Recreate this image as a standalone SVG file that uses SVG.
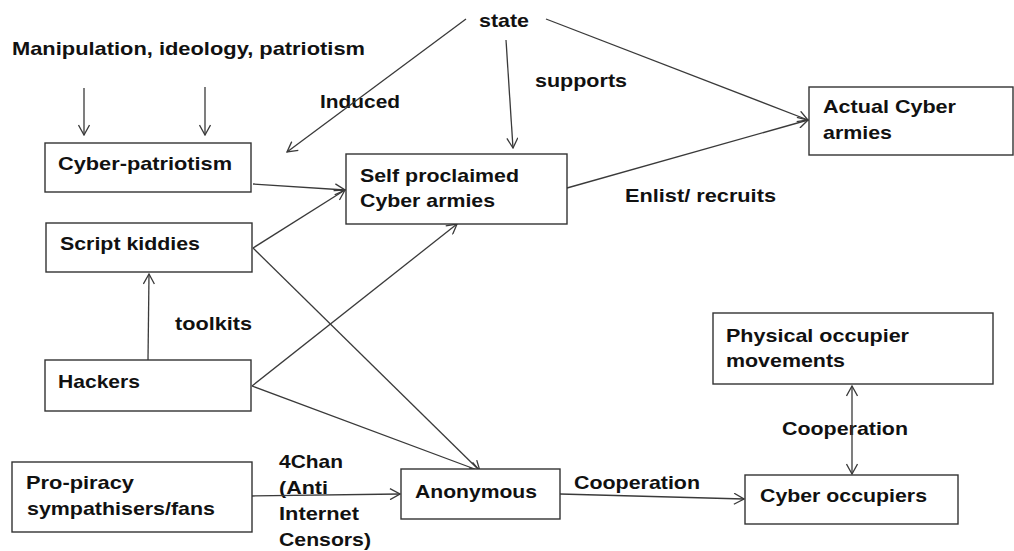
<svg xmlns="http://www.w3.org/2000/svg" width="1014" height="551" viewBox="0 0 1014 551">
  <style>
    .box { fill: #ffffff; stroke: #333333; stroke-width: 1.4; }
    .lbl { font-family: "Liberation Sans", Arial, sans-serif; font-size: 19px; font-weight: bold; fill: #111111; }
    .edge { stroke: #3a3a3a; stroke-width: 1.3; fill: none; marker-end: url(#arrow); }
  </style>
  <defs>
    <marker id="arrow" viewBox="0 0 12 12" refX="11" refY="6" markerWidth="12" markerHeight="12" markerUnits="userSpaceOnUse" orient="auto-start-reverse">
      <path d="M1,0.5 L11,6 L1,11.5" fill="none" stroke="#3a3a3a" stroke-width="1.3"/>
    </marker>
  </defs>
  <rect width="1014" height="551" fill="#ffffff"/>

  <!-- free-standing labels -->
  <g id="labels">
    <text class="lbl" x="479" y="27" textLength="50" lengthAdjust="spacingAndGlyphs">state</text>
    <text class="lbl" x="12" y="55" textLength="353" lengthAdjust="spacingAndGlyphs">Manipulation, ideology, patriotism</text>
    <text class="lbl" x="320" y="108" textLength="80" lengthAdjust="spacingAndGlyphs">Induced</text>
    <text class="lbl" x="535" y="87" textLength="92" lengthAdjust="spacingAndGlyphs">supports</text>
    <text class="lbl" x="625" y="202" textLength="151" lengthAdjust="spacingAndGlyphs">Enlist/ recruits</text>
    <text class="lbl" x="175" y="330" textLength="77" lengthAdjust="spacingAndGlyphs">toolkits</text>
    <text class="lbl" x="279" y="468" textLength="64" lengthAdjust="spacingAndGlyphs">4Chan</text>
    <text class="lbl" x="279" y="494" textLength="49" lengthAdjust="spacingAndGlyphs">(Anti</text>
    <text class="lbl" x="279" y="520" textLength="80" lengthAdjust="spacingAndGlyphs">Internet</text>
    <text class="lbl" x="279" y="546" textLength="92" lengthAdjust="spacingAndGlyphs">Censors)</text>
    <text class="lbl" x="574" y="489" textLength="126" lengthAdjust="spacingAndGlyphs">Cooperation</text>
    <text class="lbl" x="782" y="435" textLength="126" lengthAdjust="spacingAndGlyphs">Cooperation</text>
  </g>

  <!-- connectors -->
  <g id="connectors">
    <line class="edge" x1="84" y1="88" x2="84" y2="135"/>
    <line class="edge" x1="205" y1="87" x2="205" y2="135"/>
    <line class="edge" x1="466" y1="19" x2="287" y2="152"/>
    <line class="edge" x1="506" y1="40" x2="513" y2="148"/>
    <line class="edge" x1="546" y1="19" x2="808" y2="120"/>
    <line class="edge" x1="567" y1="188" x2="808" y2="120"/>
    <line class="edge" x1="253" y1="184" x2="345" y2="190"/>
    <line class="edge" x1="253" y1="248" x2="345" y2="190"/>
    <line class="edge" x1="253" y1="248" x2="480" y2="471"/>
    <line class="edge" x1="252" y1="386" x2="457" y2="224"/>
    <line class="edge" x1="252" y1="386" x2="480" y2="471"/>
    <line class="edge" x1="148" y1="360" x2="149" y2="274"/>
    <line class="edge" x1="252" y1="496" x2="400" y2="494"/>
    <line class="edge" x1="560" y1="494" x2="744" y2="499"/>
    <line class="edge" x1="852" y1="386" x2="852" y2="474" style="marker-start: url(#arrow)"/>
  </g>

  <!-- nodes -->
  <g id="cyber-patriotism">
    <rect class="box" x="45" y="143" width="206" height="49"/>
    <text class="lbl" x="58" y="170" textLength="174" lengthAdjust="spacingAndGlyphs">Cyber-patriotism</text>
  </g>
  <g id="script-kiddies">
    <rect class="box" x="46" y="223" width="206" height="49"/>
    <text class="lbl" x="60" y="250" textLength="140" lengthAdjust="spacingAndGlyphs">Script kiddies</text>
  </g>
  <g id="self-proclaimed">
    <rect class="box" x="346" y="154" width="221" height="70"/>
    <text class="lbl" x="360" y="182" textLength="159" lengthAdjust="spacingAndGlyphs">Self proclaimed</text>
    <text class="lbl" x="360" y="207" textLength="135" lengthAdjust="spacingAndGlyphs">Cyber armies</text>
  </g>
  <g id="actual-cyber-armies">
    <rect class="box" x="809" y="87" width="204" height="68"/>
    <text class="lbl" x="823" y="113" textLength="133" lengthAdjust="spacingAndGlyphs">Actual Cyber</text>
    <text class="lbl" x="823" y="139" textLength="69" lengthAdjust="spacingAndGlyphs">armies</text>
  </g>
  <g id="hackers">
    <rect class="box" x="45" y="360" width="206" height="51"/>
    <text class="lbl" x="58" y="388" textLength="82" lengthAdjust="spacingAndGlyphs">Hackers</text>
  </g>
  <g id="pro-piracy">
    <rect class="box" x="12" y="462" width="240" height="70"/>
    <text class="lbl" x="26" y="489" textLength="108" lengthAdjust="spacingAndGlyphs">Pro-piracy</text>
    <text class="lbl" x="27" y="515" textLength="188" lengthAdjust="spacingAndGlyphs">sympathisers/fans</text>
  </g>
  <g id="anonymous">
    <rect class="box" x="401" y="469" width="159" height="50"/>
    <text class="lbl" x="415" y="498" textLength="122" lengthAdjust="spacingAndGlyphs">Anonymous</text>
  </g>
  <g id="physical-occupier">
    <rect class="box" x="713" y="313" width="280" height="71"/>
    <text class="lbl" x="726" y="342" textLength="183" lengthAdjust="spacingAndGlyphs">Physical occupier</text>
    <text class="lbl" x="726" y="367" textLength="119" lengthAdjust="spacingAndGlyphs">movements</text>
  </g>
  <g id="cyber-occupiers">
    <rect class="box" x="745" y="475" width="213" height="49"/>
    <text class="lbl" x="760" y="502" textLength="167" lengthAdjust="spacingAndGlyphs">Cyber occupiers</text>
  </g>
</svg>
